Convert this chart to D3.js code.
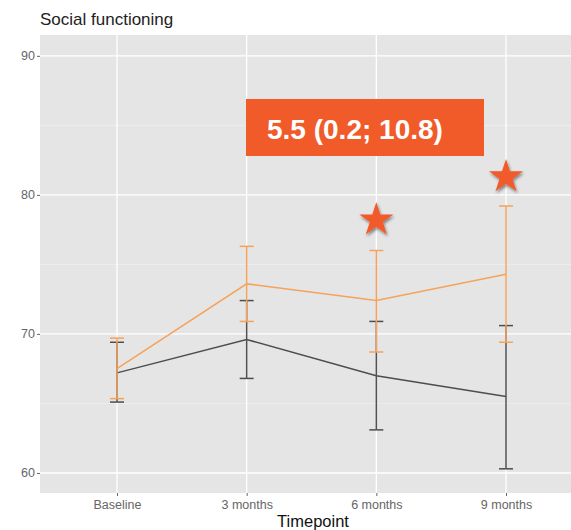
<!DOCTYPE html>
<html lang="en">
<head>
<meta charset="UTF-8">
<title>Social functioning</title>
<script src="https://d3js.org/d3.v7.min.js"></script>
<style>
  body { margin: 0; background: #fff; overflow: hidden; }
  svg { display: block; }
  text { font-family: "Liberation Sans", Arial, sans-serif; }
</style>
</head>
<body>
<svg width="571" height="530"></svg>
<script>
// data
var timepoints = ["Baseline", "3 months", "6 months", "9 months"];
var controlMean  = [67.2, 69.6, 67.0, 65.5];
var controlLow   = [65.1, 66.8, 63.1, 60.3];
var controlHigh  = [69.4, 72.4, 70.9, 70.6];
var interMean    = [67.5, 73.6, 72.4, 74.3];
var interLow     = [65.35, 70.9, 68.7, 69.4];
var interHigh    = [69.7, 76.3, 76.0, 79.2];
var yTicks = [60, 70, 80, 90];
var yMinor = [65, 75, 85];
var starAt = [{t: "6 months", v: 78.2}, {t: "9 months", v: 81.3}];
var effectLabel = "5.5 (0.2; 10.8)";

var svg = d3.select("svg");
var marge = {top: 35, left: 40, bottom: 493, right: 583};

var defs = svg.append("defs");
var f = defs.append("filter").attr("id", "shadow")
    .attr("x", "-30%").attr("y", "-30%").attr("width", "160%").attr("height", "160%");
f.append("feDropShadow").attr("dx", 1).attr("dy", 2).attr("stdDeviation", 1.5)
    .attr("flood-color", "#000").attr("flood-opacity", 0.45);

var xScale = d3.scalePoint()
    .domain(timepoints)
    .range([117, 506]);
var yScale = d3.scaleLinear()
    .domain([58.56, 91.5])
    .range([marge.bottom, marge.top]);

// panel
svg.append("rect")
    .attr("x", marge.left).attr("y", marge.top)
    .attr("width", marge.right - marge.left).attr("height", marge.bottom - marge.top)
    .attr("fill", "#E5E5E5");

var grid = svg.append("g");
grid.selectAll(".minor").data(yMinor).enter().append("line")
    .attr("x1", marge.left).attr("x2", marge.right)
    .attr("y1", function(d){ return yScale(d); })
    .attr("y2", function(d){ return yScale(d); })
    .attr("stroke", "#F2F2F2").attr("stroke-width", 0.7);
grid.selectAll(".major").data(yTicks).enter().append("line")
    .attr("x1", marge.left).attr("x2", marge.right)
    .attr("y1", function(d){ return yScale(d); })
    .attr("y2", function(d){ return yScale(d); })
    .attr("stroke", "#fff").attr("stroke-width", 1.3);
grid.selectAll(".vert").data(timepoints).enter().append("line")
    .attr("x1", function(d){ return xScale(d); })
    .attr("x2", function(d){ return xScale(d); })
    .attr("y1", marge.top).attr("y2", marge.bottom)
    .attr("stroke", "#fff").attr("stroke-width", 1.3);

// axes
var yAxis = d3.axisLeft(yScale).tickValues(yTicks).tickSize(3).tickPadding(2);
var gy = svg.append("g").attr("transform", "translate(" + marge.left + ",0)").call(yAxis);
var xAxis = d3.axisBottom(xScale).tickSize(3).tickPadding(4);
var gx = svg.append("g").attr("transform", "translate(0," + marge.bottom + ")").call(xAxis);
[gx, gy].forEach(function(g){
    g.select(".domain").remove();
    g.selectAll(".tick line").attr("stroke", "#666");
    g.selectAll(".tick text").attr("fill", "#666").style("font-size", "12.5px");
});

// series
function drawSeries(mean, low, high, color, opacity) {
    var g = svg.append("g").attr("opacity", opacity);
    var pts = timepoints.map(function(t, i){ return {t: t, m: mean[i], lo: low[i], hi: high[i]}; });
    g.selectAll(".bar").data(pts).enter().append("line")
        .attr("x1", function(d){ return xScale(d.t); })
        .attr("x2", function(d){ return xScale(d.t); })
        .attr("y1", function(d){ return yScale(d.lo); })
        .attr("y2", function(d){ return yScale(d.hi); })
        .attr("stroke", color).attr("stroke-width", 1.5);
    ["lo", "hi"].forEach(function(k){
        g.selectAll(".cap" + k).data(pts).enter().append("line")
            .attr("x1", function(d){ return xScale(d.t) - 7; })
            .attr("x2", function(d){ return xScale(d.t) + 7; })
            .attr("y1", function(d){ return yScale(d[k]); })
            .attr("y2", function(d){ return yScale(d[k]); })
            .attr("stroke", color).attr("stroke-width", 1.5);
    });
    var line = d3.line()
        .x(function(d){ return xScale(d.t); })
        .y(function(d){ return yScale(d.m); });
    g.append("path").datum(pts).attr("d", line)
        .attr("fill", "none").attr("stroke", color).attr("stroke-width", 1.5);
}
drawSeries(controlMean, controlLow, controlHigh, "#333333", 0.85);
drawSeries(interMean, interLow, interHigh, "#F5A25A", 1);

// stars
var star = d3.symbol().type(d3.symbolStar).size(360);
svg.selectAll(".star").data(starAt).enter().append("path")
    .attr("d", star)
    .attr("transform", function(d){ return "translate(" + xScale(d.t) + "," + yScale(d.v) + ")"; })
    .attr("fill", "#F15A29")
    .attr("filter", "url(#shadow)");

// effect label
svg.append("rect")
    .attr("x", 246).attr("y", 99).attr("width", 238).attr("height", 57)
    .attr("fill", "#F15A29");
svg.append("text")
    .attr("x", 267).attr("y", 139)
    .attr("fill", "#fff")
    .style("font-size", "28px").style("font-weight", "bold")
    .text(effectLabel);

// titles
svg.append("text")
    .attr("x", 40).attr("y", 25)
    .attr("fill", "#222")
    .style("font-size", "17px")
    .text("Social functioning");
svg.append("text")
    .attr("x", 313).attr("y", 527)
    .attr("text-anchor", "middle")
    .attr("fill", "#111")
    .style("font-size", "16.5px")
    .text("Timepoint");
</script>
</body>
</html>
